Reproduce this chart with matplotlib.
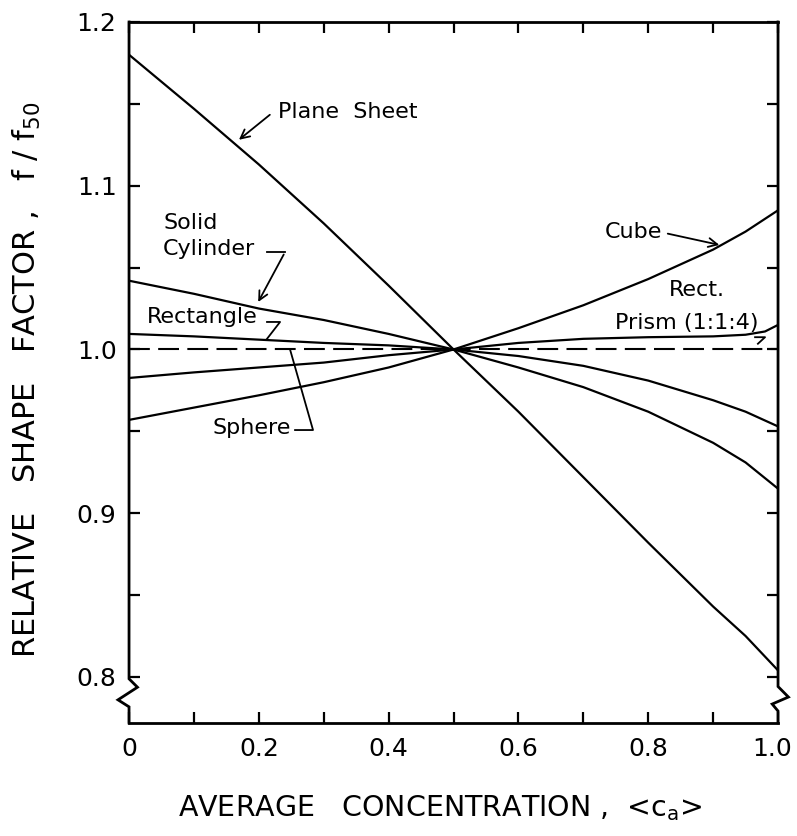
import matplotlib
matplotlib.use("Agg")
import matplotlib.pyplot as plt
from matplotlib.ticker import MultipleLocator
from matplotlib.transforms import ScaledTranslation

plt.rcParams['font.family'] = ['DejaVu Sans']
plt.rcParams['mathtext.fontset'] = 'dejavusans'

# average concentration <c_a> and relative shape factor f/f50 for each geometry
conc = [0.0, 0.1, 0.2, 0.3, 0.4, 0.5, 0.6, 0.7, 0.8, 0.9, 0.95, 1.0]
plane_sheet = [1.180, 1.147, 1.113, 1.077, 1.039, 1.000, 0.962, 0.922, 0.882, 0.843, 0.825, 0.804]
cylinder = [1.042, 1.034, 1.025, 1.018, 1.0095, 1.000, 0.989, 0.977, 0.962, 0.943, 0.931, 0.915]
rectangle = [1.0095, 1.008, 1.006, 1.004, 1.0025, 1.000, 0.996, 0.990, 0.981, 0.969, 0.962, 0.953]
cube = [0.957, 0.9645, 0.972, 0.980, 0.989, 1.000, 1.013, 1.027, 1.043, 1.061, 1.072, 1.085]
prism_conc = [0.0, 0.1, 0.2, 0.3, 0.4, 0.5, 0.6, 0.7, 0.8, 0.9, 0.95, 0.98, 1.0]
prism = [0.9826, 0.986, 0.989, 0.992, 0.9965, 1.000, 1.004, 1.0065, 1.0075, 1.008, 1.009, 1.011, 1.015]
sphere_conc = [0.0, 1.0]
sphere = [1.0, 1.0]

x_ticks = [0, 0.2, 0.4, 0.6, 0.8, 1.0]
x_ticklabels = ['0', '0.2', '0.4', '0.6', '0.8', '1.0']
y_ticks = [0.8, 0.9, 1.0, 1.1, 1.2]
y_ticklabels = ['0.8', '0.9', '1.0', '1.1', '1.2']

fig = plt.figure(figsize=(7.97, 8.36), dpi=100)
ax = fig.add_axes([0.1619, 0.1352, 0.8143, 0.8385])

lw = 1.6
ax.plot(conc, plane_sheet, color='black', lw=lw)
ax.plot(conc, cylinder, color='black', lw=lw)
ax.plot(conc, rectangle, color='black', lw=lw)
ax.plot(conc, cube, color='black', lw=lw)
ax.plot(prism_conc, prism, color='black', lw=lw)
ax.plot(sphere_conc, sphere, color='black', lw=1.5, dashes=(10, 4))

ax.set_xlim(0, 1.0)
ax.set_ylim(0.7719, 1.2)

ax.xaxis.set_minor_locator(MultipleLocator(0.1))
ax.yaxis.set_minor_locator(MultipleLocator(0.05))
ax.set_xticks(x_ticks)
ax.set_xticklabels(x_ticklabels)
ax.set_yticks(y_ticks)
ax.set_yticklabels(y_ticklabels)
ax.tick_params(which='both', direction='in', length=8, width=1.6,
               top=True, right=True, labelsize=18)
ax.tick_params(axis='x', pad=10)
ax.tick_params(axis='y', pad=9)

# keep the last x label inside the figure
last = ax.get_xticklabels()[-1]
last.set_transform(last.get_transform() + ScaledTranslation(-6 / 100, 0, fig.dpi_scale_trans))

# frame: left/right spines drawn by hand with the axis-break zigzag
for side in ('left', 'right'):
    ax.spines[side].set_visible(False)
for side in ('top', 'bottom'):
    ax.spines[side].set_linewidth(2.0)
brk = dict(color='black', lw=2.0, transform=ax.transAxes, clip_on=False,
           solid_joinstyle='miter')
ax.plot([0, 0, 0.013, -0.017, 0, 0], [1, 0.063, 0.051, 0.033, 0.023, 0], **brk)
ax.plot([1, 1, 1.016, 0.991, 1, 1], [1, 0.052, 0.037, 0.027, 0.017, 0], **brk)

ax.set_xlabel('AVERAGE   CONCENTRATION ,  <c$_\\mathregular{a}$>', fontsize=20.5)
ax.xaxis.set_label_coords(0.479, -0.121)
ax.xaxis.label.set_va('center')
ax.set_ylabel('RELATIVE   SHAPE   FACTOR ,   f / f$_\\mathregular{50}$', fontsize=22)
ax.yaxis.set_label_coords(-0.157, 0.489)
ax.yaxis.label.set_va('center')

# curve labels and leaders
fs = 16
arrow = dict(arrowstyle='->', color='black', lw=1.3, mutation_scale=16)
lead = dict(color='black', lw=1.3)

ax.text(0.2296, 1.145, 'Plane  Sheet', fontsize=fs, va='center', ha='left')
ax.annotate('', xy=(0.166, 1.127), xytext=(0.2203, 1.1444), arrowprops=arrow)

ax.text(0.0524, 1.0693, 'Solid\nCylinder', fontsize=fs, va='center', ha='left',
        linespacing=1.35)
ax.plot([0.2126, 0.2404], [1.0595, 1.0595], **lead)
ax.annotate('', xy=(0.197, 1.0275), xytext=(0.2404, 1.0595), arrowprops=arrow)

ax.text(0.0277, 1.0198, 'Rectangle', fontsize=fs, va='center', ha='left')
ax.plot([0.2126, 0.2327, 0.2126], [1.0168, 1.0168, 1.0065], **lead)

ax.text(0.1279, 0.9521, 'Sphere', fontsize=fs, va='center', ha='left')
ax.plot([0.2558, 0.2835, 0.2481], [0.9508, 0.9508, 1.0], **lead)

ax.text(0.7334, 1.0718, 'Cube', fontsize=fs, va='center', ha='left')
ax.annotate('', xy=(0.9137, 1.0635), xytext=(0.8259, 1.0711), arrowprops=arrow)

ax.text(0.8744, 1.0363, 'Rect.', fontsize=fs, va='center', ha='center')
ax.text(0.7488, 1.0162, 'Prism (1:1:4)', fontsize=fs, va='center', ha='left')
ax.plot([0.9646, 0.9800, 0.9690], [1.0075, 1.0075, 1.0035], **lead)

fig.savefig('out.png', dpi=100)
